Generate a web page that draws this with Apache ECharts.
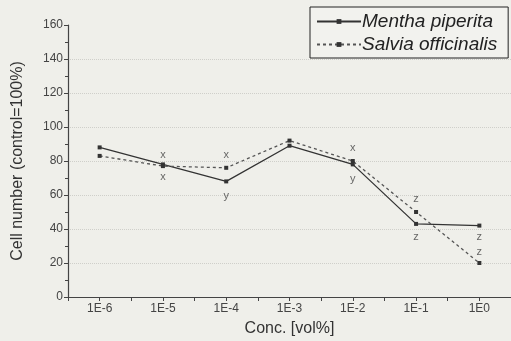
<!DOCTYPE html>
<html>
<head>
<meta charset="utf-8">
<script src="https://cdn.jsdelivr.net/npm/echarts@6/dist/echarts.min.js"></script>
<style>
html,body{margin:0;padding:0;background:#efefea;}
#c{width:511px;height:341px;}
</style>
</head>
<body>
<div id="c"></div>
<script>
const categories = ['1E-6','1E-5','1E-4','1E-3','1E-2','1E-1','1E0'];
const exponents = [-6,-5,-4,-3,-2,-1,0];
const mentha = [88, 78, 68, 89, 78, 43, 42];
const salvia = [83, 77, 76, 92, 80, 50, 20];
// annotation letters: [category index, y position, letter]
const annotations = [
  [1, 83.5, 'x'], [1, 70.5, 'x'],
  [2, 83.5, 'x'], [2, 59.5, 'y'],
  [4, 87.5, 'x'], [4, 69.5, 'y'],
  [5, 57.5, 'z'], [5, 35.5, 'z'],
  [6, 35.5, 'z'], [6, 26.5, 'z']
];
const yTicks = [0,20,40,60,80,100,120,140,160];

const chart = echarts.init(document.getElementById('c'), null, {renderer:'canvas'});
const lineColor = '#333';
chart.setOption({
  backgroundColor: '#efefea',
  animation: false,
  grid: {left: 68, right: 0, top: 25, bottom: 44, containLabel: false, outerBoundsMode: 'none'},
  legend: {
    orient: 'vertical',
    left: 310, top: 7,
    borderColor: '#222', borderWidth: 1,
    padding: [5, 11, 4, 6],
    itemGap: 4,
    itemWidth: 44, itemHeight: 6,
    backgroundColor: '#f2f2ee',
    textStyle: {fontFamily: 'Liberation Sans, Arial', fontStyle: 'italic', fontSize: 19, color: '#222', padding: [0,0,0,-4]},
    data: ['Mentha piperita', 'Salvia officinalis']
  },
  xAxis: {
    type: 'value', min: -6.5, max: 0.5, interval: 0.5,
    name: 'Conc. [vol%]', nameLocation: 'middle', nameGap: 24,
    nameTextStyle: {fontFamily: 'Liberation Sans, Arial', fontSize: 16, color: '#333'},
    axisLine: {onZero: false, lineStyle: {color: '#444', width: 1.2}},
    axisTick: {show: true, inside: false, length: 4, lineStyle: {color: '#444'}},
    splitLine: {show: false},
    axisLabel: {
      fontFamily: 'Liberation Sans, Arial', fontSize: 12, color: '#444', margin: 6,
      showMinLabel: true, showMaxLabel: true,
      formatter: function (v) {
        const i = exponents.indexOf(Math.round(v * 2) / 2);
        return i >= 0 ? categories[i] : '';
      }
    }
  },
  yAxis: {
    type: 'value', min: 0, max: 160, interval: 20,
    name: 'Cell number (control=100%)', nameLocation: 'middle', nameGap: 42, nameRotate: 90,
    nameTextStyle: {fontFamily: 'Liberation Sans, Arial', fontSize: 16, color: '#333'},
    axisLine: {show: true, onZero: false, lineStyle: {color: '#444', width: 1.2}},
    axisTick: {show: true, inside: false, length: 4, lineStyle: {color: '#444'}},
    minorTick: {show: true, splitNumber: 2, length: 3, lineStyle: {color: '#444'}},
    splitLine: {show: true, showMinLine: false, showMaxLine: false, lineStyle: {color: '#cfcfca', type: 'dotted', width: 1}},
    axisLabel: {fontFamily: 'Liberation Sans, Arial', fontSize: 12, color: '#444', margin: 5,
      formatter: function (v) { return yTicks.indexOf(v) >= 0 ? String(v) : ''; }}
  },
  series: [
    {
      name: 'Mentha piperita', type: 'line',
      data: mentha.map((v, i) => [exponents[i], v]),
      symbol: 'rect', symbolSize: 4,
      itemStyle: {color: lineColor},
      lineStyle: {color: lineColor, width: 1.3, type: 'solid'}
    },
    {
      name: 'Salvia officinalis', type: 'line',
      data: salvia.map((v, i) => [exponents[i], v]),
      symbol: 'rect', symbolSize: 4,
      itemStyle: {color: lineColor},
      lineStyle: {color: '#555', width: 1.3, type: [3, 3]}
    },
    {
      name: 'letters', type: 'scatter',
      data: annotations.map(a => ({value: [exponents[a[0]], a[1]], name: a[2]})),
      symbolSize: 0.1,
      itemStyle: {color: 'rgba(0,0,0,0)'},
      label: {show: true, position: 'inside', formatter: p => p.name,
        fontFamily: 'Liberation Sans, Arial', fontSize: 11, color: '#444'},
      silent: true
    }
  ]
});
</script>
</body>
</html>
